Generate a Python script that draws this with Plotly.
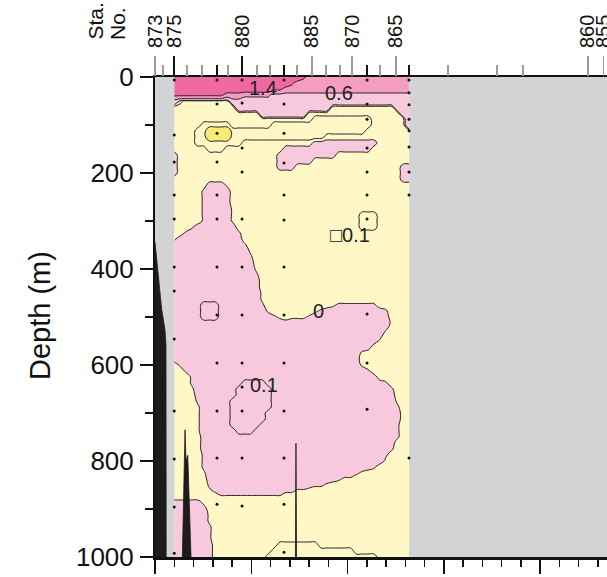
import numpy as np
import plotly.graph_objects as go

# ---------------- data ----------------
# value classes used in the hand-read map of the section
# (o / x are values just above / just below zero where a boundary sits close to a node)
field_codes = {'B': 2.2, '1': 1.6, 'M': 1.0, '7': 0.7, '4': 0.4,
               'p': 0.05, 'o': 0.017, 'q': 0.15,
               'x': -0.017, 'y': -0.05, 'Y': -0.15, 'D': -0.3}

# one row per 12.5 m of depth (0..1000 m), run-length coded across 41 columns (10..132 km)
field_runs = [
    [('B', 22), ('1', 1), ('M', 18)],
    [('B', 20), ('1', 1), ('M', 20)],
    [('B', 17), ('1', 2), ('M', 22)],
    [('1', 9), ('M', 3), ('7', 5), ('4', 24)],
    [('4', 1), ('p', 1), ('y', 8), ('4', 31)],
    [('y', 11), ('4', 16), ('y', 11), ('4', 3)],
    [('y', 15), ('4', 8), ('y', 16), ('4', 2)],
    [('y', 24), ('Y', 10), ('y', 6), ('4', 1)],
    [('y', 5), ('Y', 5), ('y', 7), ('Y', 17), ('y', 6), ('4', 1)],
    [('y', 4), ('Y', 2), ('D', 4), ('Y', 23), ('y', 8)],
    [('y', 4), ('Y', 2), ('D', 4), ('Y', 16), ('y', 15)],
    [('y', 4), ('Y', 8), ('y', 12), ('p', 11), ('y', 6)],
    [('y', 6), ('Y', 3), ('y', 10), ('p', 15), ('y', 7)],
    [('p', 1), ('y', 17), ('p', 10), ('y', 13)],
    [('p', 1), ('y', 17), ('p', 6), ('y', 17)],
    [('p', 1), ('y', 17), ('p', 3), ('y', 18), ('p', 2)],
    [('p', 1), ('y', 38), ('p', 2)],
    [('y', 39), ('p', 2)],
    [('y', 6), ('p', 3), ('x', 1), ('y', 31)],
    [('y', 5), ('o', 1), ('p', 4), ('y', 31)],
    [('y', 5), ('o', 1), ('p', 4), ('y', 31)],
    [('y', 5), ('o', 1), ('p', 4), ('y', 31)],
    [('y', 5), ('o', 1), ('p', 4), ('x', 1), ('y', 30)],
    [('y', 5), ('o', 1), ('p', 4), ('x', 1), ('y', 21), ('Y', 3), ('y', 6)],
    [('y', 5), ('o', 1), ('p', 4), ('x', 1), ('y', 21), ('Y', 3), ('y', 6)],
    [('y', 3), ('x', 1), ('p', 7), ('y', 21), ('Y', 3), ('y', 6)],
    [('y', 2), ('o', 1), ('p', 8), ('o', 1), ('y', 29)],
    [('x', 1), ('p', 11), ('y', 29)],
    [('p', 12), ('o', 1), ('y', 28)],
    [('p', 13), ('x', 1), ('y', 27)],
    [('p', 13), ('o', 1), ('y', 27)],
    [('p', 14), ('y', 27)],
    [('p', 14), ('x', 1), ('y', 26)],
    [('p', 14), ('o', 1), ('y', 26)],
    [('p', 15), ('y', 26)],
    [('p', 15), ('y', 26)],
    [('p', 15), ('x', 1), ('y', 25)],
    [('p', 15), ('x', 1), ('y', 25)],
    [('p', 5), ('q', 3), ('p', 7), ('o', 1), ('y', 11), ('x', 1), ('o', 7), ('y', 6)],
    [('p', 5), ('q', 3), ('p', 8), ('x', 1), ('y', 7), ('x', 1), ('o', 1), ('p', 10), ('o', 1), ('y', 4)],
    [('p', 5), ('q', 3), ('p', 9), ('o', 1), ('x', 1), ('y', 1), ('x', 3), ('o', 1), ('p', 13), ('y', 4)],
    [('p', 37), ('x', 1), ('y', 3)],
    [('p', 36), ('o', 1), ('y', 4)],
    [('p', 36), ('y', 5)],
    [('p', 35), ('x', 1), ('y', 5)],
    [('p', 34), ('y', 7)],
    [('p', 32), ('x', 1), ('y', 8)],
    [('p', 32), ('y', 9)],
    [('y', 1), ('o', 1), ('p', 30), ('x', 1), ('y', 8)],
    [('y', 2), ('o', 1), ('p', 30), ('o', 1), ('y', 7)],
    [('y', 3), ('o', 1), ('p', 31), ('y', 6)],
    [('y', 3), ('o', 1), ('p', 8), ('q', 4), ('p', 20), ('o', 1), ('y', 4)],
    [('y', 3), ('x', 1), ('p', 7), ('q', 6), ('p', 20), ('o', 1), ('y', 3)],
    [('y', 4), ('p', 7), ('q', 6), ('p', 21), ('y', 3)],
    [('y', 4), ('o', 1), ('p', 5), ('q', 7), ('p', 21), ('x', 1), ('y', 2)],
    [('y', 4), ('x', 1), ('p', 5), ('q', 7), ('p', 21), ('o', 1), ('y', 2)],
    [('y', 4), ('x', 1), ('p', 5), ('q', 6), ('p', 23), ('y', 2)],
    [('y', 4), ('x', 1), ('p', 5), ('q', 6), ('p', 23), ('y', 2)],
    [('y', 4), ('x', 1), ('p', 5), ('q', 5), ('p', 23), ('o', 1), ('y', 2)],
    [('y', 4), ('x', 1), ('p', 6), ('q', 3), ('p', 24), ('o', 1), ('y', 2)],
    [('y', 5), ('p', 33), ('o', 1), ('y', 2)],
    [('y', 5), ('p', 33), ('y', 3)],
    [('y', 5), ('p', 32), ('o', 1), ('y', 3)],
    [('y', 5), ('o', 1), ('p', 30), ('o', 1), ('y', 4)],
    [('y', 5), ('o', 1), ('p', 30), ('x', 1), ('y', 4)],
    [('y', 5), ('o', 1), ('p', 28), ('o', 1), ('y', 6)],
    [('y', 5), ('x', 1), ('p', 25), ('o', 1), ('x', 1), ('y', 8)],
    [('y', 6), ('p', 22), ('o', 1), ('x', 2), ('y', 10)],
    [('y', 6), ('o', 1), ('p', 17), ('o', 2), ('x', 1), ('y', 14)],
    [('y', 6), ('x', 1), ('o', 1), ('p', 11), ('o', 2), ('x', 2), ('y', 18)],
    [('y', 8), ('x', 11), ('y', 22)],
    [('p', 5), ('x', 1), ('y', 35)],
    [('p', 6), ('y', 35)],
    [('p', 6), ('x', 1), ('y', 34)],
    [('p', 6), ('x', 1), ('y', 34)],
    [('p', 6), ('o', 1), ('y', 34)],
    [('p', 6), ('o', 1), ('y', 34)],
    [('p', 6), ('o', 1), ('y', 34)],
    [('p', 7), ('y', 11), ('Y', 7), ('y', 16)],
    [('p', 7), ('y', 10), ('Y', 14), ('y', 10)],
    [('p', 7), ('y', 9), ('Y', 19), ('y', 6)],
]

# stations (distance along section, km)
label_gray_names = ['873', '885', '870', '865', '860', '855']
label_gray_km = [0.0, 81.5, 102.3, 125.1, 224.8, 232.8]
label_black_names = ['875', '880']
label_black_km = [10.0, 45.2]
data_station_km = [32.2, 67.0, 110.1, 131.9]
other_station_km = [4.2, 16.6, 24.4, 37.9, 53.0, 59.7, 73.7, 88.8, 96.0,
                    116.8, 152.1, 177.6, 191.1]

# sampling points
dot_station_km = [10.0, 32.2, 45.2, 67.0, 110.1, 131.9]
dot_depths = [
    [6, 121, 177, 246, 296, 396, 446, 546, 696, 796, 896, 992],
    [6, 56, 117, 177, 246, 296, 396, 496, 596, 696, 794, 890],
    [6, 54, 148, 198, 296, 396, 496, 596, 646, 696, 794, 894],
    [6, 56, 117, 179, 246, 298, 396, 496, 596, 696, 794, 890, 990],
    [6, 56, 88, 148, 198, 246, 296, 494, 596, 692],
    [6, 33, 58, 88, 112, 146, 198, 246, 794],
]

# bottom topography
wall_km = [0.0, 1.3, 2.2, 3.5, 5.2, 5.7, 5.8, 0.0]
wall_depth = [344, 400, 444, 485, 527, 560, 1000, 1000]
ridge_a_km = [14.2, 15.6, 16.1, 17.0, 18.7]
ridge_a_depth = [1000, 735, 800, 788, 1000]
ridge_b_km = [72.9, 73.2, 73.5]
ridge_b_depth = [1000, 763, 1000]

# contour labels
clabel_text = ['1.4', '0.6', '0', '\u25a10.1', '0.1']
clabel_km = [56.1, 95.5, 85.1, 101.2, 56.6]
clabel_depth = [23, 34, 488, 330, 641]

# ---------------- build ----------------
NCOL = 41
dist = np.linspace(10, 132, NCOL)
depth = np.linspace(0, 1000, len(field_runs))
bad = [i for i, r in enumerate(field_runs) if sum(n for _, n in r) != NCOL]
if bad or len(field_runs) != 81:
    raise SystemExit("bad rows: %s n=%d" % ([(i, sum(n for _, n in field_runs[i])) for i in bad], len(field_runs)))
Z = [[field_codes[c] for c, n in runs for _ in range(n)] for runs in field_runs]

GRAY = '#d1d3d4'
YEL = '#fff8c6'
YEL_D = '#f9ec74'
PINK_L = '#f8c8dc'
PINK_M = '#f59cc1'
PINK_B = '#ef68a1'
LINE = '#222222'
FONT = 'Liberation Sans, Arial, Helvetica, sans-serif'
XMAX = 234.7
SMOOTH = 1.3


# plotly shades the region that does NOT satisfy the constraint
def shade_above(val, fill):
    return go.Contour(x=dist, y=depth, z=Z,
                      contours=dict(type='constraint', operation='<', value=val),
                      fillcolor=fill,
                      line=dict(color=LINE, width=1, smoothing=SMOOTH),
                      showscale=False, hoverinfo='skip')


def shade_below(val, fill):
    return go.Contour(x=dist, y=depth, z=Z,
                      contours=dict(type='constraint', operation='>', value=val),
                      fillcolor=fill,
                      line=dict(color=LINE, width=1, smoothing=SMOOTH),
                      showscale=False, hoverinfo='skip')


fig = go.Figure()
fig.add_trace(shade_above(0, PINK_L))
fig.add_trace(shade_above(0.6, PINK_M))
fig.add_trace(shade_above(1.4, PINK_B))
fig.add_trace(shade_below(-0.2, YEL_D))
fig.add_trace(shade_below(-0.1, 'rgba(0,0,0,0)'))
fig.add_trace(shade_above(0.1, 'rgba(0,0,0,0)'))

for kx, dy in [(wall_km, wall_depth), (ridge_a_km, ridge_a_depth), (ridge_b_km, ridge_b_depth)]:
    fig.add_trace(go.Scatter(x=kx, y=dy, mode='lines', fill='toself',
                             fillcolor='#1c1c1c', line=dict(color='#1c1c1c', width=0.8),
                             showlegend=False, hoverinfo='skip'))

dx, dyy = [], []
for k, ds in zip(dot_station_km, dot_depths):
    dx += [k] * len(ds)
    dyy += ds
fig.add_trace(go.Scatter(x=dx, y=dyy, mode='markers',
                         marker=dict(color='#111', size=3),
                         showlegend=False, hoverinfo='skip'))

# dummy traces so the extra top axes exist
for ax in ['x2', 'x3', 'x4', 'x5']:
    fig.add_trace(go.Scatter(x=[None], y=[None], xaxis=ax, yaxis='y',
                             showlegend=False, hoverinfo='skip'))

fig.add_shape(type='rect', xref='x', yref='y', x0=dist[0], x1=dist[-1],
              y0=0, y1=1000, fillcolor=YEL, line=dict(width=0), layer='below')

top_common = dict(overlaying='x', side='top', anchor='y', range=[0, XMAX],
                  tickmode='array', ticks='outside', showline=False,
                  showgrid=False, zeroline=False, tickangle=-90, automargin=False,
                  tickfont=dict(family=FONT, size=20, color='#111'),
                  ticklabelstandoff=4, ticklabeloverflow='allow')

fig.update_layout(
    width=607, height=577,
    margin=dict(l=155, r=0, t=77, b=20, autoexpand=False),
    paper_bgcolor='white', plot_bgcolor=GRAY,
    showlegend=False,
    font=dict(family=FONT, color='#111'),
    xaxis=dict(range=[0, XMAX], showline=True, linecolor='#111', linewidth=2.5,
               mirror=True, ticks='outside', tick0=0, dtick=50, ticklen=14,
               tickwidth=1.5, tickcolor='#111', showticklabels=False,
               showgrid=False, zeroline=False, automargin=False,
               minor=dict(dtick=10, ticklen=7, tickwidth=1.5, tickcolor='#111',
                          ticks='outside', showgrid=False)),
    yaxis=dict(range=[1000, 0], showline=True, linecolor='#111', linewidth=2,
               ticks='outside', tick0=0, dtick=200, ticklen=13, tickwidth=1.5,
               tickcolor='#111', tickfont=dict(family=FONT, size=26, color='#111'),
               showgrid=False, zeroline=False, ticklabelstandoff=1, automargin=False,
               minor=dict(dtick=100, ticklen=8, tickwidth=1.5, tickcolor='#111',
                          ticks='outside', showgrid=False)),
    xaxis2=dict(**top_common, tickvals=label_gray_km, ticktext=label_gray_names,
                ticklen=20, tickwidth=1.5, tickcolor='#9b9b9b'),
    xaxis3=dict(**top_common, tickvals=label_black_km, ticktext=label_black_names,
                ticklen=20, tickwidth=2, tickcolor='#111'),
    xaxis4=dict(**top_common, tickvals=other_station_km, ticktext=['' for _ in other_station_km],
                ticklen=11, tickwidth=1.5, tickcolor='#9b9b9b'),
    xaxis5=dict(**top_common, tickvals=data_station_km, ticktext=['' for _ in data_station_km],
                ticklen=11, tickwidth=2, tickcolor='#111'),
)

for t, kx, dyv in zip(clabel_text, clabel_km, clabel_depth):
    fig.add_annotation(x=kx, y=dyv, xref='x', yref='y', text=t, showarrow=False,
                       font=dict(family=FONT, size=20, color='#222'))

fig.add_annotation(text='Depth (m)', xref='paper', yref='paper',
                   x=(40 - 155) / 452, y=0.502, textangle=-90, showarrow=False,
                   xanchor='center', yanchor='middle',
                   font=dict(family=FONT, size=29, color='#111'))
fig.add_annotation(text='Sta.', xref='paper', yref='paper',
                   x=(95 - 155) / 452, y=(557 - 42) / 480, textangle=-90, showarrow=False,
                   xanchor='center', yanchor='bottom',
                   font=dict(family=FONT, size=21, color='#111'))
fig.add_annotation(text='No.', xref='paper', yref='paper',
                   x=(117.5 - 155) / 452, y=(557 - 42) / 480, textangle=-90, showarrow=False,
                   xanchor='center', yanchor='bottom',
                   font=dict(family=FONT, size=21, color='#111'))

# remove the default page margin so the figure sits at the window's corner
fig.write_html('out.html', config={'displayModeBar': False, 'staticPlot': True},
               post_script="document.body.style.margin='0px';")
